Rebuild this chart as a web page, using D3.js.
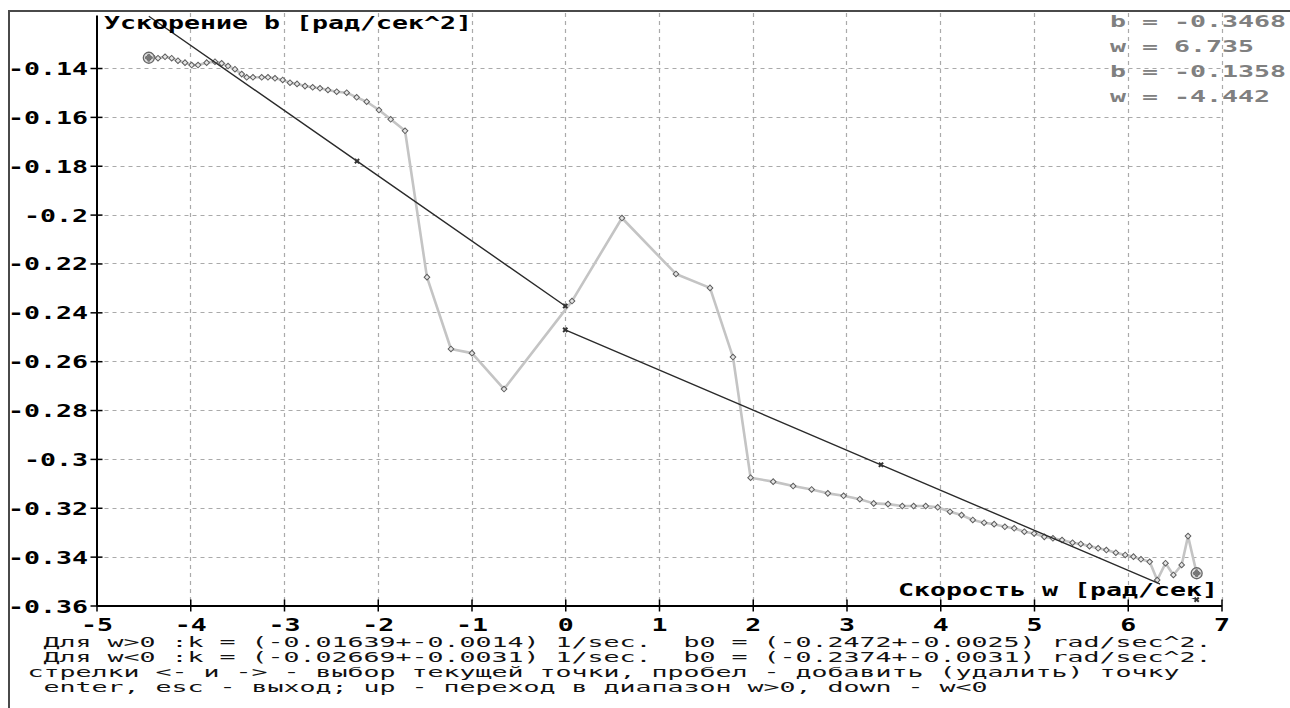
<!DOCTYPE html>
<html><head><meta charset="utf-8">
<script src="https://cdn.jsdelivr.net/npm/d3@7"></script>
<style>
html,body{margin:0;padding:0;background:#fff;overflow:hidden;}
svg{display:block;}
text{font-family:"DejaVu Sans Mono","Liberation Mono",monospace;white-space:pre;}
</style></head><body>
<svg id="c" width="1290" height="708"></svg>
<script>
// ---- data ----
const wData = [-4.442,-4.411,-4.344,-4.269,-4.198,-4.131,-4.056,-3.985,-3.917,-3.825,-3.736,-3.665,-3.597,-3.523,-3.451,-3.398,-3.331,-3.238,-3.171,-3.096,-3.014,-2.936,-2.861,-2.776,-2.694,-2.616,-2.531,-2.438,-2.331,-2.225,-2.118,-1.987,-1.862,-1.709,
  -1.475,-1.219,-0.995,-0.653,0.072,0.605,1.181,1.544,1.789,
  1.977,2.218,2.431,2.628,2.801,2.969,3.142,3.290,3.443,3.595,3.716,3.845,3.973,4.104,4.227,4.347,4.468,4.575,4.689,4.789,4.897,5.001,5.110,5.202,5.299,5.411,5.499,5.592,5.684,5.772,5.873,5.973,6.061,6.141,6.234,6.314,6.403,6.487,6.575,6.643,6.735];
const bData = [-0.1358,-0.1351,-0.1360,-0.1354,-0.1360,-0.1370,-0.1378,-0.1388,-0.1388,-0.1378,-0.1374,-0.1381,-0.1392,-0.1405,-0.1425,-0.1438,-0.1438,-0.1438,-0.1438,-0.1442,-0.1449,-0.1460,-0.1465,-0.1474,-0.1479,-0.1483,-0.1490,-0.1497,-0.1501,-0.1520,-0.1538,-0.1572,-0.1610,-0.1657,
  -0.2256,-0.2550,-0.2567,-0.2714,-0.2354,-0.2014,-0.2243,-0.2300,-0.2583,
  -0.3077,-0.3093,-0.3111,-0.3125,-0.3141,-0.3151,-0.3165,-0.3182,-0.3185,-0.3193,-0.3193,-0.3193,-0.3198,-0.3216,-0.3230,-0.3250,-0.3261,-0.3267,-0.3278,-0.3284,-0.3298,-0.3305,-0.3319,-0.3325,-0.3332,-0.3343,-0.3348,-0.3357,-0.3366,-0.3373,-0.3384,-0.3393,-0.3400,-0.3411,-0.3421,-0.3496,-0.3427,-0.3475,-0.3434,-0.3316,-0.3468];
const fitNegW = [-4.442, -2.221, 0];
const fitNegB = [-0.1188, -0.1781, -0.2374];
const fitPosW = [0, 3.368, 6.735];
const fitPosB = [-0.2472, -0.3024, -0.3576];
const currentW = [6.735, -4.442];
const currentB = [-0.3468, -0.1358];
const xTicks = [-5,-4,-3,-2,-1,0,1,2,3,4,5,6,7];
const xTickLabels = ["-5","-4","-3","-2","-1","0","1","2","3","4","5","6","7"];
const yTicks = [-0.14,-0.16,-0.18,-0.2,-0.22,-0.24,-0.26,-0.28,-0.3,-0.32,-0.34,-0.36];
const yTickLabels = ["-0.14","-0.16","-0.18","-0.2","-0.22","-0.24","-0.26","-0.28","-0.3","-0.32","-0.34","-0.36"];
const titleY = "Ускорение b [рад/сек^2]";
const titleX = "Скорость w [рад/сек]";
const infoLines = ["b = -0.3468","w = 6.735","b = -0.1358","w = -4.442"];
const footerLines = [
  " Для w>0 :k = (-0.01639+-0.0014) 1/sec.  b0 = (-0.2472+-0.0025) rad/sec^2.",
  " Для w<0 :k = (-0.02669+-0.0031) 1/sec.  b0 = (-0.2374+-0.0031) rad/sec^2.",
  "стрелки <- и -> - выбор текущей точки, пробел - добавить (удалить) точку",
  " enter, esc - выход; up - переход в диапазон w>0, down - w<0"
];

// ---- layout ----
const PITCH = 16;
const svg = d3.select("#c");
const x = d3.scaleLinear().domain([-5, 7]).range([96.5, 1221.5]);
const y = d3.scaleLinear().domain([-0.36, -0.1183]).range([605.5, 15]);

function ptext(sel, str, x0, yBase, size, weight, fill) {
  const lead = str.length - str.trimStart().length;
  const s = str.trimStart();
  return sel.append("text")
    .attr("x", x0 + lead * PITCH)
    .attr("y", yBase)
    .attr("font-size", size)
    .attr("font-weight", weight)
    .attr("fill", fill)
    .attr("textLength", s.length * PITCH)
    .attr("lengthAdjust", "spacingAndGlyphs")
    .text(s);
}

// frame
svg.append("path").attr("d", "M9,708V11H1290").attr("fill", "none")
  .attr("stroke", "#4a4a4a").attr("stroke-width", 2);

// grid
const grid = svg.append("g").attr("stroke", "#aaaaaa").attr("stroke-width", 1.2)
  .attr("stroke-dasharray", "4,4");
grid.selectAll("line.h").data(yTicks.filter(d => d !== -0.36)).join("line")
  .attr("x1", x(-5)).attr("x2", x(7))
  .attr("y1", d => Math.round(y(d)) + 0.5).attr("y2", d => Math.round(y(d)) + 0.5);
grid.selectAll("line.v").data(xTicks.filter(d => d !== -5)).join("line")
  .attr("y1", 13).attr("y2", y(-0.36))
  .attr("x1", d => Math.round(x(d)) + 0.5).attr("x2", d => Math.round(x(d)) + 0.5);

// axes
const yAxis = svg.append("g").attr("transform", `translate(${x(-5)},0)`)
  .call(d3.axisLeft(y).tickValues(yTicks).tickFormat((d, i) => yTickLabels[i]).tickSize(6).tickSizeOuter(0));
yAxis.select(".domain").attr("stroke", "#000").attr("stroke-width", 2);
yAxis.selectAll(".tick line").attr("x1", -6).attr("x2", 6).attr("stroke", "#000").attr("stroke-width", 1.5);
yAxis.selectAll(".tick text").each(function(d, i) {
  const s = yTickLabels[i];
  d3.select(this).attr("text-anchor", "start").attr("dy", null)
    .attr("x", -8.5 - s.length * PITCH).attr("y", 6.5)
    .attr("font-size", 18).attr("font-weight", "bold").attr("fill", "#000")
    .attr("font-family", null)
    .attr("textLength", s.length * PITCH).attr("lengthAdjust", "spacingAndGlyphs");
});

const xAxis = svg.append("g").attr("transform", `translate(0,${y(-0.36)})`)
  .call(d3.axisBottom(x).tickValues(xTicks).tickFormat((d, i) => xTickLabels[i]).tickSize(6).tickSizeOuter(0));
xAxis.select(".domain").attr("stroke", "#000").attr("stroke-width", 2);
xAxis.selectAll(".tick line").attr("y1", -6).attr("y2", 6).attr("stroke", "#000").attr("stroke-width", 1.5);
xAxis.selectAll(".tick text").each(function(d, i) {
  const s = xTickLabels[i];
  d3.select(this).attr("text-anchor", "start").attr("dy", null)
    .attr("x", -s.length * PITCH / 2).attr("y", 25.5)
    .attr("font-size", 17).attr("font-weight", "bold").attr("fill", "#000")
    .attr("font-family", null)
    .attr("textLength", s.length * PITCH).attr("lengthAdjust", "spacingAndGlyphs");
});
svg.selectAll(".tick text").style("font-family", '"DejaVu Sans Mono", monospace');

// data line
const pts = wData.map((w, i) => [w, bData[i]]);
const line = d3.line().x(d => x(d[0])).y(d => y(d[1]));
svg.append("path").datum(pts).attr("d", line).attr("fill", "none")
  .attr("stroke", "#c4c4c4").attr("stroke-width", 2.6).attr("stroke-linejoin", "round");
const diamond = d3.symbol().type(d3.symbolSquare).size(16);
svg.append("g").selectAll("path").data(pts).join("path")
  .attr("d", diamond)
  .attr("transform", d => `translate(${x(d[0])},${y(d[1])}) rotate(45)`)
  .attr("fill", "#e6e6e6").attr("stroke", "#5e5e5e").attr("stroke-width", 1);

// fit lines (masked under x-axis label)
const defs = svg.append("defs");
const mask = defs.append("mask").attr("id", "lblmask");
mask.append("rect").attr("x", 0).attr("y", 0).attr("width", 1290).attr("height", 708).attr("fill", "#fff");
mask.append("rect").attr("x", 1160).attr("y", 583).attr("width", 60).attr("height", 15).attr("fill", "#000");
const fitG = svg.append("g").attr("mask", "url(#lblmask)");
const fits = [fitNegW.map((w, i) => [w, fitNegB[i]]), fitPosW.map((w, i) => [w, fitPosB[i]])];
fitG.selectAll("path.fit").data(fits).join("path").attr("class", "fit")
  .attr("d", line).attr("fill", "none").attr("stroke", "#2a2a2a").attr("stroke-width", 1.4);
const cross = d3.symbol().type(d3.symbolCross).size(20);
svg.append("g").selectAll("path").data(fits.flat().filter(d => d[0] > -4)).join("path")
  .attr("d", cross)
  .attr("transform", d => `translate(${x(d[0])},${y(d[1])}) rotate(45)`)
  .attr("fill", "#333");

// current point markers
const cur = currentW.map((w, i) => [w, currentB[i]]);
const cg = svg.append("g").selectAll("g").data(cur).join("g")
  .attr("transform", d => `translate(${x(d[0])},${y(d[1])})`);
cg.append("circle").attr("r", 5.5).attr("fill", "#ddd").attr("stroke", "#666").attr("stroke-width", 1.3);
cg.append("path").attr("d", d3.symbol().type(d3.symbolSquare).size(22)).attr("transform", "rotate(45)")
  .attr("fill", "none").attr("stroke", "#555").attr("stroke-width", 1);
cg.append("path").attr("d", d3.symbol().type(d3.symbolCross).size(30)).attr("fill", "#777");

// titles
ptext(svg, titleY, 104, 29, 17, "bold", "#000");
ptext(svg, titleX, 898, 596, 17, "bold", "#000");

// info texts (top right)
infoLines.forEach((s, i) => ptext(svg, s, 1110, 27 + i * 25, 16, "bold", "#808080"));

// footer
footerLines.forEach((s, i) => ptext(svg, s, 27.5, 647 + i * 15, 14, "normal", "#111"));
</script>
</body></html>
